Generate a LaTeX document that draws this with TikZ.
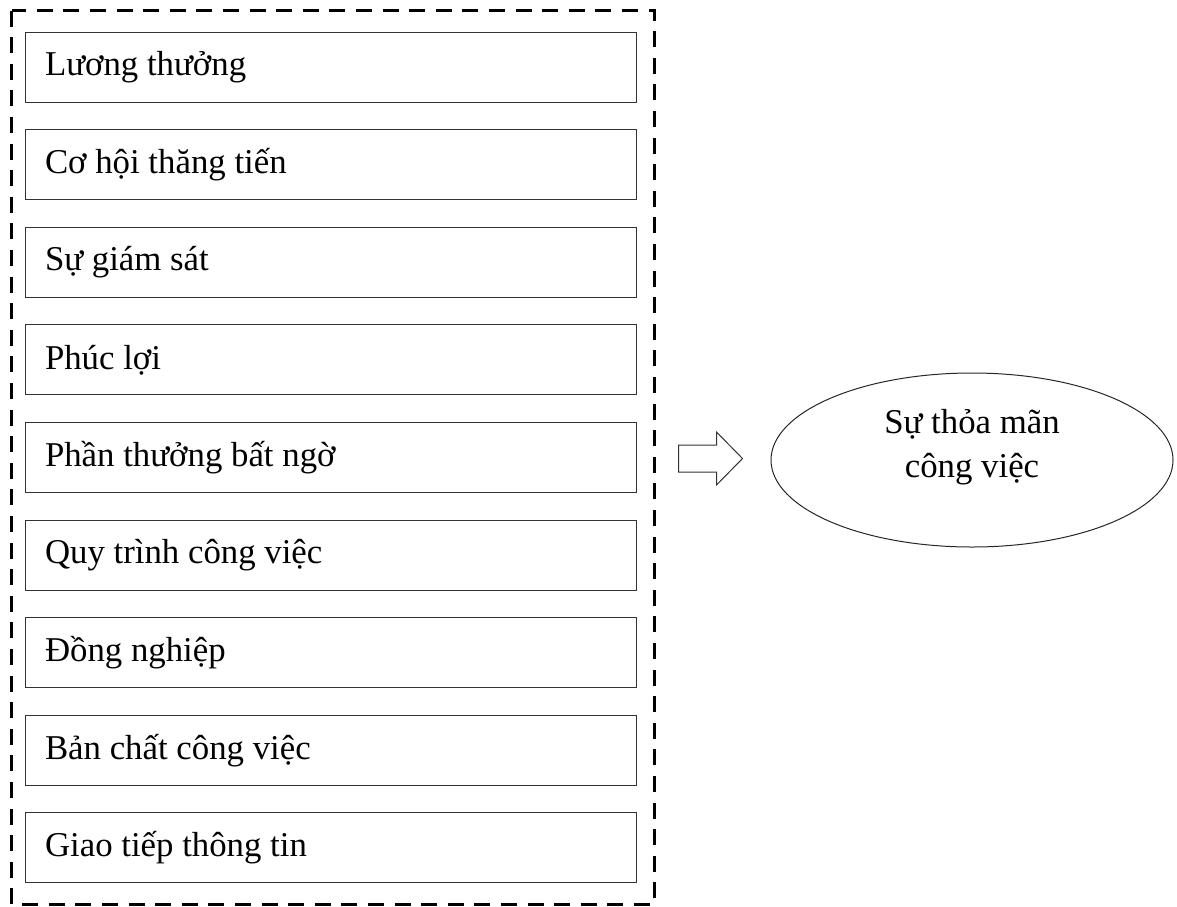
\documentclass[tikz,border=0pt]{standalone}
\usepackage{fontspec}
\setmainfont{Liberation Serif}
\usepackage{tikz}
\usetikzlibrary{positioning, shapes.geometric}

\begin{document}
\begin{tikzpicture}
	[on grid, node distance=48.8pt,
	 font=\fontsize{17.4pt}{22pt}\selectfont,
	 factor/.style={draw=black!80, line width=0.5pt, minimum height=35pt,
	   text width=285.5pt, inner xsep=10pt, align=flush left},
	 outcome/.style={draw=black!85, ellipse, line width=0.5pt, minimum width=201pt,
	   minimum height=87pt, inner sep=0pt},
	 frame/.style={line width=1.6pt, dash pattern=on 8pt off 5.3pt},
	 blockarrow/.style={draw=black!80, line width=0.5pt, line join=miter}]
   \useasboundingbox (0,0) rectangle (588.5pt,-453pt);
   \node[factor] (f_1) at (165.25pt,-33.5pt) {Lương thưởng};
   \node[factor] (f_2) [below=of f_1] {Cơ hội thăng tiến};
   \node[factor] (f_3) [below=of f_2] {Sự giám sát};
   \node[factor] (f_4) [below=of f_3] {Phúc lợi};
   \node[factor] (f_5) [below=of f_4] {Phần thưởng bất ngờ};
   \node[factor] (f_6) [below=of f_5] {Quy trình công việc};
   \node[factor] (f_7) [below=of f_6] {Đồng nghiệp};
   \node[factor] (f_8) [below=of f_7] {Bản chất công việc};
   \node[factor] (f_9) [below=of f_8] {Giao tiếp thông tin};
   \node[outcome, label={[align=center, yshift=6.3pt]center:Sự thỏa mãn\\công việc}]
     (sat) at (486pt,-230pt) {};

   \draw[frame] ([xshift=-6.5pt,yshift=10.5pt]f_1.north west)
     rectangle ([xshift=9pt,yshift=-10.5pt]f_9.south east);

   \coordinate[left=46pt of sat.west] (a_tail);
   \draw[blockarrow] ([yshift=7.5pt]a_tail) -- ++(19pt,0) -- ++(0,6.5pt)
     -- ++(13pt,-13.25pt) -- ++(-13pt,-13.25pt) -- ++(0,6.5pt)
     -- ++(-19pt,0) -- cycle;
\end{tikzpicture}
\end{document}
